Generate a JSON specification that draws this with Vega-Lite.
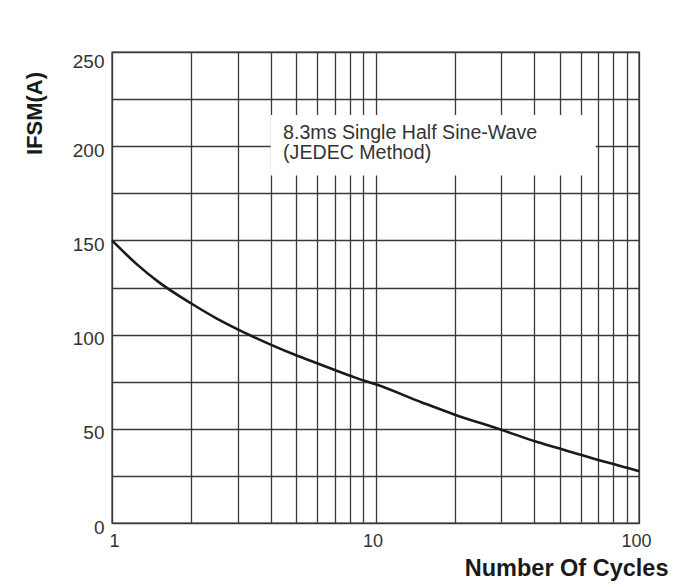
{
  "$schema": "https://vega.github.io/schema/vega-lite/v6.json",
  "width": 527,
  "height": 471,
  "autosize": {"type": "none"},
  "padding": {"left": 112, "top": 52, "right": 43, "bottom": 64},
  "background": "white",
  "config": {
    "font": "Liberation Sans",
    "view": {"stroke": "#333333", "strokeWidth": 1.4},
    "axis": {"domain": false, "ticks": false, "grid": true, "gridColor": "#3a3a3a", "gridWidth": 1.3, "gridOpacity": 1, "labelFont": "Liberation Sans", "labelFontSize": 19, "labelColor": "#333333", "titleFont": "Liberation Sans", "titleFontWeight": "bold", "titleColor": "#1a1a1a"}
  },
  "datasets": {
    "curve": [
      {"cycles": 1, "ifsm": 150},
      {"cycles": 1.25, "ifsm": 137},
      {"cycles": 1.5, "ifsm": 128},
      {"cycles": 2, "ifsm": 116.5},
      {"cycles": 2.5, "ifsm": 108.5},
      {"cycles": 3, "ifsm": 102.8},
      {"cycles": 4, "ifsm": 94.7},
      {"cycles": 5, "ifsm": 89},
      {"cycles": 6, "ifsm": 84.8},
      {"cycles": 7, "ifsm": 81.2},
      {"cycles": 8, "ifsm": 78.2},
      {"cycles": 9, "ifsm": 75.6},
      {"cycles": 10, "ifsm": 73.6},
      {"cycles": 15, "ifsm": 64},
      {"cycles": 20, "ifsm": 57.5},
      {"cycles": 30, "ifsm": 49.5},
      {"cycles": 40, "ifsm": 43.5},
      {"cycles": 50, "ifsm": 39.5},
      {"cycles": 60, "ifsm": 36.2},
      {"cycles": 70, "ifsm": 33.5},
      {"cycles": 80, "ifsm": 31.3},
      {"cycles": 90, "ifsm": 29.3},
      {"cycles": 100, "ifsm": 27.5}
    ],
    "box": [{"x1": 4, "x2": 68.5, "y1": 184.5, "y2": 216.5}],
    "note": [
      {"x": 4.46, "y": 207, "label": "8.3ms Single Half Sine-Wave"},
      {"x": 4.46, "y": 196.4, "label": "(JEDEC Method)"}
    ]
  },
  "layer": [
    {
      "data": {"name": "box"},
      "mark": {"type": "rect", "fill": "white", "stroke": null},
      "encoding": {
        "x": {"field": "x1", "type": "quantitative", "scale": {"type": "log", "domain": [1, 100], "nice": false},
          "axis": {"values": [1,2,3,4,5,6,7,8,9,10,20,30,40,50,60,70,80,90,100], "labelExpr": "datum.value == 1 || datum.value == 10 || datum.value == 100 ? datum.label : ''", "labelFontSize": 18, "labelPadding": 9, "labelOffset": {"condition": {"test": "datum.value == 100", "value": 12}, "value": -3}, "title": "Number Of Cycles", "titleFontSize": 23.5, "titleAnchor": "end", "titleAlign": "right", "titleX": 556, "titleY": 52, "titleBaseline": "alphabetic"}},
        "x2": {"field": "x2"},
        "y": {"field": "y1", "type": "quantitative", "scale": {"domain": [0, 250], "nice": false},
          "axis": {"values": [0,25,50,75,100,125,150,175,200,225,250], "labelExpr": "datum.value % 50 == 0 ? datum.label : ''", "labelPadding": 8, "labelOffset": {"condition": {"test": "datum.value == 250", "value": 9}, "value": 4}, "title": "IFSM(A)", "titleFontSize": 22, "titleAngle": 270, "titleAlign": "center", "titleBaseline": "middle", "titleX": -78, "titleY": 61}},
        "y2": {"field": "y2"}
      }
    },
    {
      "data": {"name": "note"},
      "mark": {"type": "text", "align": "left", "baseline": "middle", "fontSize": 19.6, "color": "#333333", "font": "Liberation Sans"},
      "encoding": {
        "x": {"field": "x", "type": "quantitative"},
        "y": {"field": "y", "type": "quantitative"},
        "text": {"field": "label"}
      }
    },
    {
      "data": {"name": "curve"},
      "mark": {"type": "line", "color": "#1a1a1a", "strokeWidth": 2.6, "interpolate": "monotone"},
      "encoding": {
        "x": {"field": "cycles", "type": "quantitative"},
        "y": {"field": "ifsm", "type": "quantitative"}
      }
    }
  ]
}
